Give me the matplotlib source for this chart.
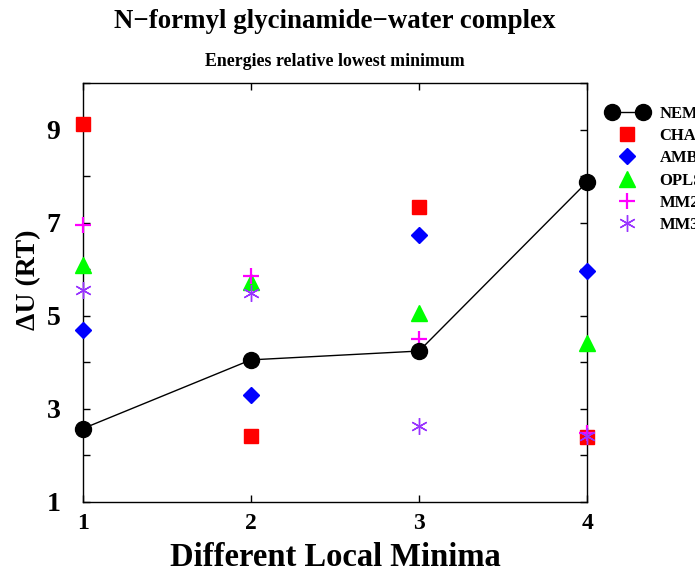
import matplotlib
matplotlib.use("Agg")
import matplotlib.pyplot as plt
from matplotlib.legend_handler import HandlerLine2D
from matplotlib.ticker import MultipleLocator
import numpy as np

minima = [1, 2, 3, 4]
nemo = [2.57, 4.05, 4.24, 7.88]
charmm = [9.13, 2.41, 7.33, 2.40]
amber = [4.69, 3.30, 6.73, 5.96]
opls = [6.08, 5.73, 5.06, 4.42]
mm2 = [6.96, 5.85, 4.50, 2.47]
mm3 = [5.55, 5.49, 2.62, 2.42]
labels = ["NEMO", "CHARMM", "AMBER", "OPLS", "MM2", "MM3"]
x_ticks = [1, 2, 3, 4]
y_ticks = [1, 3, 5, 7, 9]

plt.rcParams['font.family'] = ['Liberation Serif', 'DejaVu Serif']
plt.rcParams['font.weight'] = 'bold'

fig = plt.figure(figsize=(6.95, 5.74), dpi=100)
ax = fig.add_axes([0.119, 0.126, 0.726, 0.729])

h_nemo, = ax.plot(minima, nemo, '-o', color='black', lw=1.0, ms=11.5, label=labels[0], zorder=5, clip_on=False)
h_ch, = ax.plot(minima, charmm, 's', color='#FF0000', ms=9.5, ls='none', label=labels[1], zorder=3, clip_on=False)
h_am, = ax.plot(minima, amber, 'D', color='#0000FF', ms=8, ls='none', label=labels[2], zorder=3, clip_on=False)
h_op, = ax.plot(minima, opls, '^', color='#00FF00', ms=11.5, ls='none', label=labels[3], zorder=3, clip_on=False)
h_m2, = ax.plot(minima, mm2, '+', color='#FF00FF', ms=12, mew=1.6, ls='none', label=labels[4], zorder=4, clip_on=False)
h_m3, = ax.plot(minima, mm3, marker=(6, 2, 0), color='#9933FF', ms=12, mew=1.0, ls='none', label=labels[5], zorder=4, clip_on=False)

ax.set_xlim(1, 4)
ax.set_ylim(1, 10)
ax.set_xticks(x_ticks)
ax.set_yticks(y_ticks)
ax.yaxis.set_minor_locator(MultipleLocator(1))
ax.tick_params(which='both', direction='in', top=True, right=True, length=5, width=1)
ax.tick_params(axis='x', labelsize=17, pad=8)
ax.tick_params(axis='y', labelsize=20, pad=16)
for lab in ax.get_xticklabels() + ax.get_yticklabels():
    lab.set_fontweight('bold')
for s in ax.spines.values():
    s.set_linewidth(1.0)

ax.set_xlabel("Different Local Minima", fontsize=23.5, fontweight='bold', labelpad=6)
ax.set_ylabel("ΔU (RT)", fontsize=20, fontweight='bold')
ax.yaxis.set_label_coords(-0.083, 0.53)

fig.text(0.482, 0.962, "N−formyl glycinamide−water complex", ha='center', va='center',
         fontsize=19.4, fontweight='bold')
fig.text(0.482, 0.893, "Energies relative lowest minimum", ha='center', va='center',
         fontsize=12.9, fontweight='bold')


class RightMarkerHandler(HandlerLine2D):
    def get_xdata(self, legend, xdescent, ydescent, width, height, fontsize):
        xdata, xm = super().get_xdata(legend, xdescent, ydescent, width, height, fontsize)
        if len(xm) == 1:
            xm = np.array([width - xdescent])
        return xdata, xm


hm = {h_nemo: HandlerLine2D(numpoints=2)}
for h in [h_ch, h_am, h_op, h_m2, h_m3]:
    hm[h] = RightMarkerHandler(numpoints=1)

leg = fig.legend(handles=[h_nemo, h_ch, h_am, h_op, h_m2, h_m3], labels=labels,
                 loc='upper left', bbox_to_anchor=(0.8734, 0.816), frameon=False,
                 fontsize=12, handlelength=2.45, handletextpad=0.7, labelspacing=0.38,
                 borderaxespad=0, borderpad=0, handler_map=hm)
for t in leg.get_texts():
    t.set_fontweight('bold')

fig.savefig("out.png", dpi=100)
